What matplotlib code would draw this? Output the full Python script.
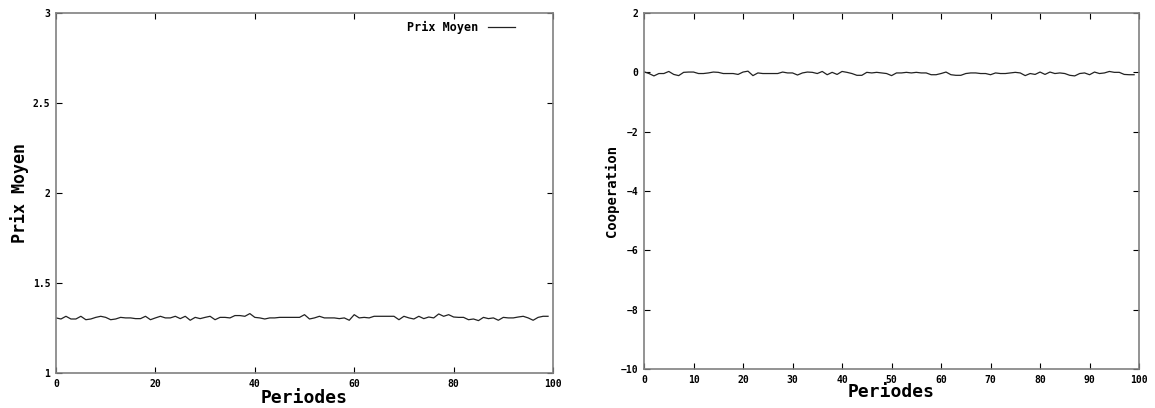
import matplotlib.pyplot as plt

# donnees
periodes = list(range(100))
prix_moyen = [
    1.306, 1.300, 1.315, 1.300, 1.300, 1.315, 1.296, 1.300, 1.309, 1.315,
    1.309, 1.296, 1.300, 1.309, 1.306, 1.306, 1.302, 1.302, 1.315, 1.296,
    1.306, 1.315, 1.306, 1.306, 1.315, 1.302, 1.315, 1.293, 1.309, 1.302,
    1.309, 1.315, 1.296, 1.309, 1.309, 1.306, 1.319, 1.319, 1.315, 1.330,
    1.309, 1.306, 1.300, 1.306, 1.306, 1.309, 1.309, 1.309, 1.309, 1.309,
    1.324, 1.300, 1.306, 1.315, 1.306, 1.306, 1.306, 1.302, 1.306, 1.293,
    1.324, 1.306, 1.309, 1.306, 1.315, 1.315, 1.315, 1.315, 1.315, 1.296,
    1.315, 1.306, 1.300, 1.315, 1.302, 1.311, 1.306, 1.328, 1.315, 1.324,
    1.311, 1.309, 1.309, 1.296, 1.300, 1.291, 1.309, 1.302, 1.306, 1.293,
    1.309, 1.306, 1.306, 1.311, 1.315, 1.306, 1.293, 1.309, 1.315, 1.315,
]
cooperation = [
    0.02, -0.04, -0.12, -0.04, -0.04, 0.03, -0.07, -0.11, 0.00, 0.01,
    0.01, -0.04, -0.04, -0.02, 0.01, 0.00, -0.04, -0.04, -0.04, -0.07,
    0.01, 0.04, -0.11, -0.02, -0.04, -0.04, -0.04, -0.04, 0.01, -0.02,
    -0.02, -0.09, -0.02, 0.01, 0.00, -0.04, 0.03, -0.08, 0.00, -0.07,
    0.03, 0.00, -0.04, -0.10, -0.10, 0.00, -0.02, 0.00, -0.02, -0.04,
    -0.11, -0.02, -0.02, 0.00, -0.02, 0.00, -0.02, -0.02, -0.08, -0.08,
    -0.04, 0.01, -0.08, -0.10, -0.10, -0.04, -0.02, -0.02, -0.04, -0.04,
    -0.08, -0.02, -0.04, -0.04, -0.02, 0.00, -0.02, -0.11, -0.04, -0.07,
    0.01, -0.07, 0.01, -0.04, -0.02, -0.04, -0.10, -0.12, -0.04, -0.02,
    -0.08, 0.01, -0.04, -0.02, 0.03, 0.00, 0.00, -0.07, -0.08, -0.08,
]

police = 'DejaVu Sans Mono'
gris = '#808080'

fig = plt.figure(figsize=(11.55, 4.08), dpi=100)
ax1 = fig.add_axes([0.0485, 0.0858, 0.4303, 0.8824])
ax2 = fig.add_axes([0.5576, 0.0956, 0.4286, 0.8725])

def style_axes(ax):
    for s in ax.spines.values():
        s.set_color(gris)
        s.set_linewidth(1.2)
    ax.tick_params(direction='in', top=True, right=True, length=4,
                   color='black', labelsize=7, pad=4)
    for lab in ax.get_xticklabels() + ax.get_yticklabels():
        lab.set_fontfamily(police)
        lab.set_fontweight('bold')

# graphique de gauche
ax1.plot(periodes, prix_moyen, color='#222222', linewidth=0.9, label='Prix Moyen')
ax1.set_xlim(0, 100)
ax1.set_ylim(1, 3)
ax1.set_xticks([0, 20, 40, 60, 80, 100])
ax1.set_yticks([1, 1.5, 2, 2.5, 3])
ax1.set_yticklabels(['1', '1.5', '2', '2.5', '3'])
style_axes(ax1)
ax1.set_xlabel('Periodes', fontfamily=police, fontweight='bold', fontsize=13, labelpad=0)
ax1.set_ylabel('Prix Moyen', fontfamily=police, fontweight='bold', fontsize=12, labelpad=3)
leg = ax1.legend(loc='upper right', frameon=False, handlelength=2.3, markerfirst=False,
                 prop={'family': police, 'weight': 'bold', 'size': 8.5},
                 bbox_to_anchor=(0.94, 1.0), borderaxespad=0.3)

# graphique de droite
ax2.plot(periodes, cooperation, color='#222222', linewidth=0.9)
ax2.set_xlim(0, 100)
ax2.set_ylim(-10, 2)
ax2.set_xticks(list(range(0, 101, 10)))
ax2.set_yticks([-10, -8, -6, -4, -2, 0, 2])
style_axes(ax2)
ax2.set_xlabel('Periodes', fontfamily=police, fontweight='bold', fontsize=13, labelpad=-1)
ax2.set_ylabel('Cooperation', fontfamily=police, fontweight='bold', fontsize=10, labelpad=1)

fig.savefig('out.png', dpi=100)
